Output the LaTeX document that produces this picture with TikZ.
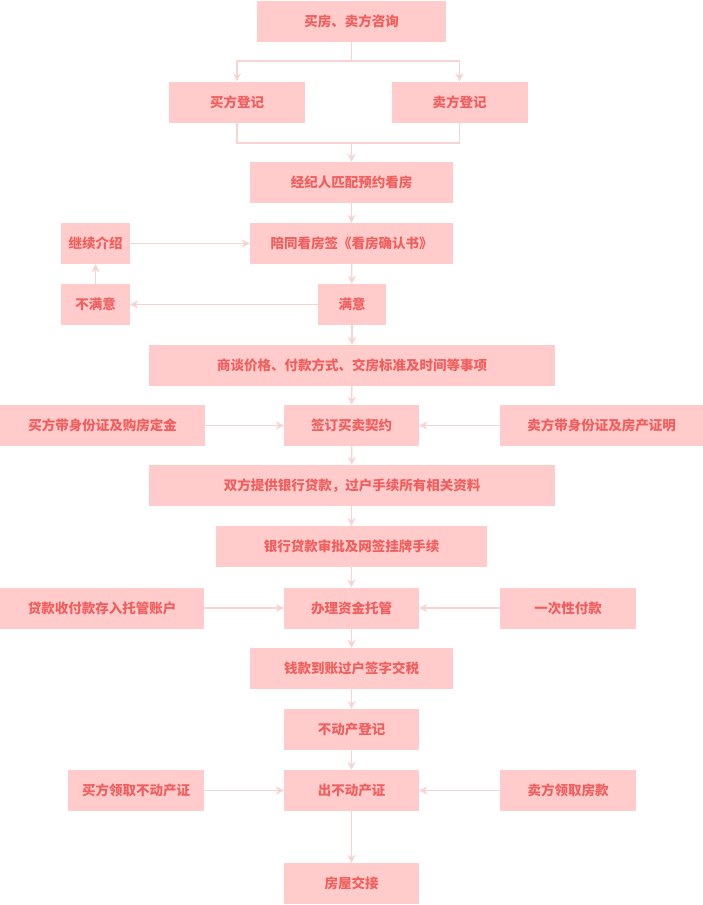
\documentclass[tikz,border=0pt]{standalone}
\usepackage{fontspec}
\newfontfamily\cjk{Noto Sans CJK SC}
\usepackage{tikz}
\usetikzlibrary{arrows.meta,positioning}
\definecolor{boxpink}{HTML}{FFCBCB}
\definecolor{textred}{HTML}{F0605F}
\definecolor{linkpink}{HTML}{F8D3D3}
\tikzset{
  box/.style={fill=boxpink,text=textred,font=\cjk\bfseries\fontsize{13.5}{16}\selectfont,minimum height=41pt,inner sep=0pt},
  plain/.style={draw=linkpink,line width=1.4pt},
  link/.style={plain,-{Stealth[length=8pt,width=8pt,inset=2.5pt]}}
}

\begin{document}
\begin{tikzpicture}[x=1pt,y=-1pt]
    \useasboundingbox (0,0) rectangle (703,905);
    \node[box,minimum width=189pt] (consult) at (351.5,21) {买房、卖方咨询};
    \node[box,minimum width=136pt] (buyreg) at (237,102) {买方登记};
    \node[box,minimum width=136pt] (sellreg) at (459.5,102) {卖方登记};
    \node[box,minimum width=203pt] (agent) at (351.5,182.5) {经纪人匹配预约看房};
    \node[box,minimum width=203pt] (visit) at (351.5,243.5) {陪同看房签《看房确认书》};
    \node[box,minimum width=69pt] (more) at (95.5,243.5) {继续介绍};
    \node[box,minimum width=69pt] (unhappy) at (95.5,304.5) {不满意};
    \node[box,minimum width=68pt] (happy) at (352,304.5) {满意};
    \node[box,minimum width=406pt] (negot) at (352,365.5) {商谈价格、付款方式、交房标准及时间等事项};
    \node[box,minimum width=135pt] (sign) at (351.5,425.5) {签订买卖契约};
    \node[box,minimum width=205pt] (buyid) at (102.5,425.5) {买方带身份证及购房定金};
    \node[box,minimum width=203pt] (sellid) at (601.5,425.5) {卖方带身份证及房产证明};
    \node[box,minimum width=406pt] (docs) at (352,485.5) {双方提供银行贷款，过户手续所有相关资料};
    \node[box,minimum width=271pt] (loan) at (351.5,546.5) {银行贷款审批及网签挂牌手续};
    \node[box,minimum width=204pt] (loanpay) at (102,608) {贷款收付款存入托管账户};
    \node[box,minimum width=135pt] (escrow) at (351.5,608) {办理资金托管};
    \node[box,minimum width=136pt] (onepay) at (568,608) {一次性付款};
    \node[box,minimum width=203pt] (tax) at (351.5,668.5) {钱款到账过户签字交税};
    \node[box,minimum width=135pt] (register) at (351.5,729.5) {不动产登记};
    \node[box,minimum width=135pt] (cert) at (351.5,790.5) {出不动产证};
    \node[box,minimum width=136pt] (buycert) at (136,790.5) {买方领取不动产证};
    \node[box,minimum width=136pt] (sellmoney) at (568,790.5) {卖方领取房款};
    \node[box,minimum width=135pt] (handover) at (351.5,883.5) {房屋交接};

    \coordinate (split) at (351.5,61);
    \coordinate (merge) at (351.5,143);
    \draw[plain] (consult.south) -- (split);
    \draw[link] (split) -| (buyreg.north);
    \draw[link] (split) -| (sellreg.north);
    \draw[plain] (buyreg.south) |- (merge);
    \draw[plain] (sellreg.south) |- (merge);
    \draw[link] (merge) -- (agent.north);
    \draw[link] (agent) -- (visit);
    \draw[link] (visit) -- (happy);
    \draw[link] (happy) -- (unhappy);
    \draw[link] (unhappy) -- (more);
    \draw[link] (more) -- (visit);
    \draw[link] (happy) -- (negot);
    \draw[link] (negot) -- (sign);
    \draw[link] (buyid) -- (sign);
    \draw[link] (sellid) -- (sign);
    \draw[link] (sign) -- (docs);
    \draw[link] (docs.south -| loan) -- (loan);
    \draw[link] (loan) -- (escrow);
    \draw[link] (loanpay) -- (escrow);
    \draw[link] (onepay) -- (escrow);
    \draw[link] (escrow) -- (tax);
    \draw[link] (tax) -- (register);
    \draw[link] (register) -- (cert);
    \draw[link] (buycert) -- (cert);
    \draw[link] (sellmoney) -- (cert);
    \draw[link] (cert) -- (handover);
\end{tikzpicture}
\end{document}
